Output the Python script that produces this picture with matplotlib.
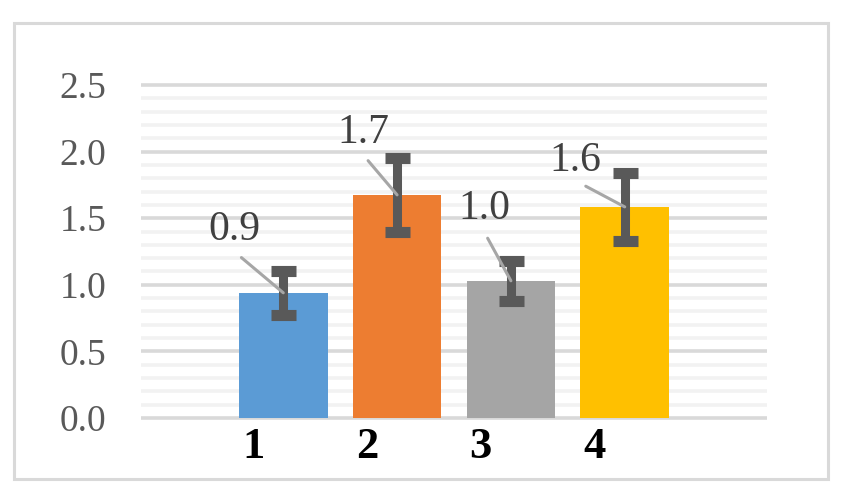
import matplotlib
matplotlib.use("Agg")
import matplotlib.pyplot as plt
from matplotlib.patches import Rectangle
from matplotlib.ticker import MultipleLocator

# data
groups = ["1", "2", "3", "4"]
means = [0.94, 1.675, 1.03, 1.585]
errors = [0.165, 0.278, 0.15, 0.255]
labels = ["0.9", "1.7", "1.0", "1.6"]
colors = ["#5B9BD5", "#ED7D31", "#A5A5A5", "#FFC000"]
# where each value label sits, relative to the top of its bar
label_dx = [-0.43, -0.30, -0.23, -0.43]
label_dy = [0.47, 0.47, 0.54, 0.35]

plt.rcParams["font.family"] = ["Liberation Serif", "DejaVu Serif"]

fig = plt.figure(figsize=(8.49, 5.01), dpi=100)
fig.patches.append(Rectangle((14 / 849, 1 - 479 / 501), 814 / 849, 456 / 501,
                             transform=fig.transFigure, fill=False,
                             edgecolor="#D9D9D9", lw=2.2, zorder=0))

ax = fig.add_axes([141 / 849, (501 - 418 - 1.6) / 501, 626 / 849, (333 + 3.2) / 501])

x = list(range(1, len(groups) + 1))
ax.bar(x, means, width=0.78, color=colors, zorder=2)
ax.errorbar(x, means, yerr=errors, fmt="none", ecolor="#595959",
            elinewidth=6.5, capsize=9, capthick=8, zorder=3)

for xi, m, lab, dx, dy in zip(x, means, labels, label_dx, label_dy):
    ax.annotate(lab, xy=(xi, m), xytext=(xi + dx, m + dy),
                ha="center", va="center", fontsize=30, color="#404040",
                arrowprops=dict(arrowstyle="-", color="#A6A6A6", lw=2.2,
                                relpos=(0.45, 0.0), shrinkA=6, shrinkB=0),
                zorder=4)

ax.set_xlim(-0.25, 5.25)
ax.set_ylim(-0.012, 2.512)
ax.yaxis.set_minor_locator(MultipleLocator(0.1))
# category labels sit a little left of the bar centres in the source
ax.set_xticks([xi - 0.265 for xi in x])
ax.set_xticklabels(groups, fontsize=32, fontweight="bold", color="black")
ax.set_yticks([0, 0.5, 1.0, 1.5, 2.0, 2.5])
ax.set_yticklabels(["0.0", "0.5", "1.0", "1.5", "2.0", "2.5"], fontsize=27, color="#595959")
ax.tick_params(axis="both", which="both", length=0)
ax.tick_params(axis="y", pad=25)
ax.tick_params(axis="x", pad=5)

ax.set_axisbelow(True)
ax.grid(which="minor", axis="y", color="#F2F2F2", lw=2.6)
ax.grid(which="major", axis="y", color="#D9D9D9", lw=2.6)
for s in ax.spines.values():
    s.set_visible(False)

fig.savefig("out.png", dpi=100)
